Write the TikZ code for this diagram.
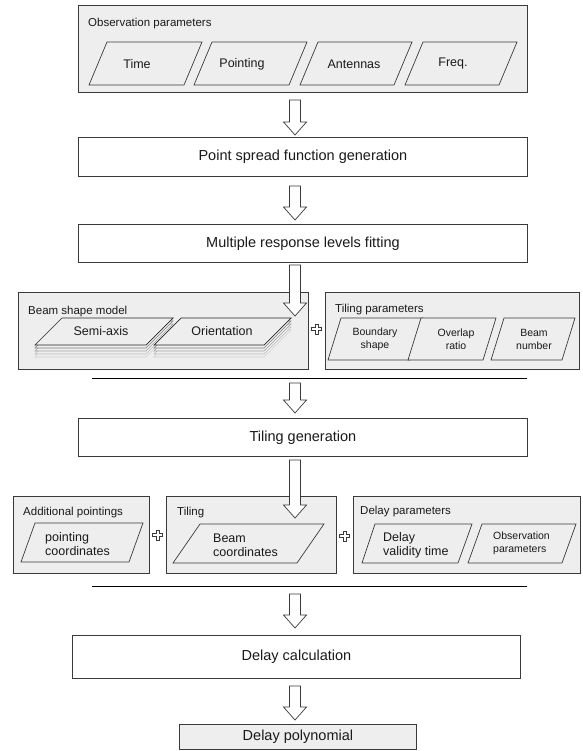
\documentclass[tikz,border=0pt]{standalone}
\usepackage{fontspec}
\setmainfont{Liberation Sans}
\usetikzlibrary{calc}
\definecolor{boxbg}{HTML}{EEEEEE}
\definecolor{edge}{HTML}{3A3A3A}
\definecolor{txt}{HTML}{1A1A1A}
\newcommand\blockarrow[2]{%
  \draw[arrowline] let \p1=(#1), \p2=(#2) in
   (\x1-5.5pt,\y1) -- (\x1+5.5pt,\y1) -- (\x1+5.5pt,\y2+13pt) -- (\x1+11.5pt,\y2+13pt)
   -- (\x2,\y2) -- (\x1-11.5pt,\y2+13pt) -- (\x1-5.5pt,\y2+13pt) -- cycle;}
\begin{document}
\begin{tikzpicture}[x=1pt,y=-1pt,
  groupbox/.style={draw=edge, fill=boxbg, line width=0.9pt, inner sep=0pt, anchor=north west},
  procbox/.style={draw=edge, fill=white, line width=0.9pt, inner sep=0pt, anchor=north west},
  proctext/.style={font=\fontsize{14.5}{17}\selectfont, text=txt, inner sep=0pt},
  title/.style={anchor=west, font=\fontsize{11.5}{13}\selectfont, text=txt, inner sep=0pt},
  para/.style={draw=edge, fill=boxbg, line width=0.7pt, line join=miter},
  ptext/.style={font=\fontsize{12.5}{14}\selectfont, text=txt, inner sep=0pt, align=left},
  stext/.style={font=\fontsize{10.5}{13}\selectfont, text=txt, inner sep=0pt, align=center},
  arrowline/.style={draw=edge, fill=white, line width=0.7pt, line join=miter},
  sepline/.style={draw=black, line width=0.9pt},
  plussign/.pic={\draw[fill=white, draw=edge, line width=0.6pt]
     (-1.7,-4.8) -- (1.7,-4.8) -- (1.7,-1.7) -- (4.8,-1.7) -- (4.8,1.7) -- (1.7,1.7)
     -- (1.7,4.8) -- (-1.7,4.8) -- (-1.7,1.7) -- (-4.8,1.7) -- (-4.8,-1.7) -- (-1.7,-1.7) -- cycle;}
]
\useasboundingbox (0,0) rectangle (582,751);

% ---------- Observation parameters ----------
\node[groupbox, minimum width=449pt, minimum height=87pt] (obs) at (78,5) {};
\node[title] (obst) at (88,24) {Observation parameters};
\draw[para] (89,85) -- (107,42) -- (202,42) -- (184,85) -- cycle;
\draw[para] (194,85) -- (212,42) -- (307,42) -- (289,85) -- cycle;
\draw[para] (300,85) -- (318,42) -- (412,42) -- (394,85) -- cycle;
\draw[para] (405,85) -- (423,42) -- (517,42) -- (499,85) -- cycle;
\node[ptext] (time) at (137,64) {Time};
\node[ptext] (pointing) at (242,64) {Pointing};
\node[ptext] (antennas) at (354,64) {Antennas};
\node[ptext] (freq) at (453,64) {Freq.};

% ---------- process boxes ----------
\node[procbox, minimum width=449pt, minimum height=39pt] (psf) at (78,137) {};
\node[proctext] at (psf.center) {Point spread function generation};
\node[procbox, minimum width=449pt, minimum height=38pt] (mrl) at (78,224) {};
\node[proctext] at (mrl.center) {Multiple response levels fitting};

% ---------- Beam shape model ----------
\node[groupbox, minimum width=290pt, minimum height=77pt] (bsm) at (18,292) {};
\node[title] (bsmt) at (28,312) {Beam shape model};
\foreach \d/\c in {12/18,9/26,6/36,3/50}{
  \draw[draw=black!\c, fill=boxbg, line width=0.6pt] (35,345+\d) -- (62,318+\d) -- (173,318+\d) -- (146,345+\d) -- cycle;
  \draw[draw=black!\c, fill=boxbg, line width=0.6pt] (154,345+\d) -- (181,318+\d) -- (291,318+\d) -- (264,345+\d) -- cycle;
}
\draw[para, draw=black!85] (35,345) -- (62,318) -- (173,318) -- (146,345) -- cycle;
\draw[para, draw=black!85] (154,345) -- (181,318) -- (291,318) -- (264,345) -- cycle;
\node[ptext] (semi) at (101,331) {Semi-axis};
\node[ptext] (orient) at (222,331) {Orientation};

\pic at (316.5,329) {plussign};

% ---------- Tiling parameters ----------
\node[groupbox, minimum width=254pt, minimum height=77pt] (tpar) at (325,292) {};
\node[title] (tpart) at (335,310) {Tiling parameters};
\draw[para] (328,360) -- (341,318) -- (423,318) -- (410,360) -- cycle;
\draw[para] (408,360) -- (421,318) -- (496,318) -- (483,360) -- cycle;
\draw[para] (491,360) -- (504,318) -- (575,318) -- (562,360) -- cycle;
\node[stext] (bshape) at (375,339) {Boundary\\shape};
\node[stext] (olap) at (456,339) {Overlap\\ratio};
\node[stext] (bnum) at (534,339) {Beam\\number};

\draw[sepline] (92,378) coordinate (l1a) -- (527,378) coordinate (l1b);

% ---------- Tiling generation ----------
\node[procbox, minimum width=449pt, minimum height=38pt] (tgen) at (78,418) {};
\node[proctext] at (tgen.center) {Tiling generation};

% ---------- lower group ----------
\node[groupbox, minimum width=136pt, minimum height=77pt] (addp) at (13,496) {};
\node[title] (addpt) at (23,513) {Additional pointings};
\draw[para] (21,562) -- (35,523) -- (143,523) -- (129,562) -- cycle;
\node[ptext, anchor=west] (pcoord) at (45,544) {pointing\\coordinates};

\pic at (157.5,535) {plussign};

\node[groupbox, minimum width=170pt, minimum height=77pt] (til) at (166,496) {};
\node[title] (tilt) at (177,513) {Tiling};
\draw[para] (173,563) -- (200,524) -- (324,524) -- (297,563) -- cycle;
\node[ptext, anchor=west] (bcoord) at (213,545) {Beam\\coordinates};

\pic at (344.5,536) {plussign};

\node[groupbox, minimum width=227pt, minimum height=77pt] (dpar) at (353,496) {};
\node[title] (dpart) at (360,512) {Delay parameters};
\draw[para] (362,563) -- (375,524) -- (472,524) -- (458,563) -- cycle;
\draw[para] (468,563) -- (482,524) -- (576,524) -- (562,563) -- cycle;
\node[ptext, anchor=west] (dvt) at (383,545) {Delay\\validity time};
\node[stext, anchor=west, align=left] (opar) at (493,543) {Observation\\parameters};

\draw[sepline] (92,586) coordinate (l2a) -- (527,586) coordinate (l2b);

% ---------- Delay calculation / polynomial ----------
\node[procbox, minimum width=448pt, minimum height=43pt] (dcalc) at (72,635) {};
\node[proctext] at (dcalc.center) {Delay calculation};
\node[groupbox, minimum width=237pt, minimum height=25pt] (dpoly) at (179,724) {};
\node[proctext] at (dpoly.center) {Delay polynomial};

% ---------- block arrows ----------
\coordinate (a1s) at (295,100); \coordinate (a1e) at (295,135);
\coordinate (a2s) at (295,186); \coordinate (a2e) at (295,220);
\coordinate (a3s) at (295,265); \coordinate (a3e) at (295,316);
\coordinate (a4s) at (295,383); \coordinate (a4e) at (295,413);
\coordinate (a5s) at (295,460); \coordinate (a5e) at (295,518);
\coordinate (a6s) at (295,594); \coordinate (a6e) at (295,628);
\coordinate (a7s) at (295,686); \coordinate (a7e) at (295,720);
\blockarrow{a1s}{a1e}
\blockarrow{a2s}{a2e}
\blockarrow{a3s}{a3e}
\blockarrow{a4s}{a4e}
\blockarrow{a5s}{a5e}
\blockarrow{a6s}{a6e}
\blockarrow{a7s}{a7e}
\end{tikzpicture}
\end{document}
